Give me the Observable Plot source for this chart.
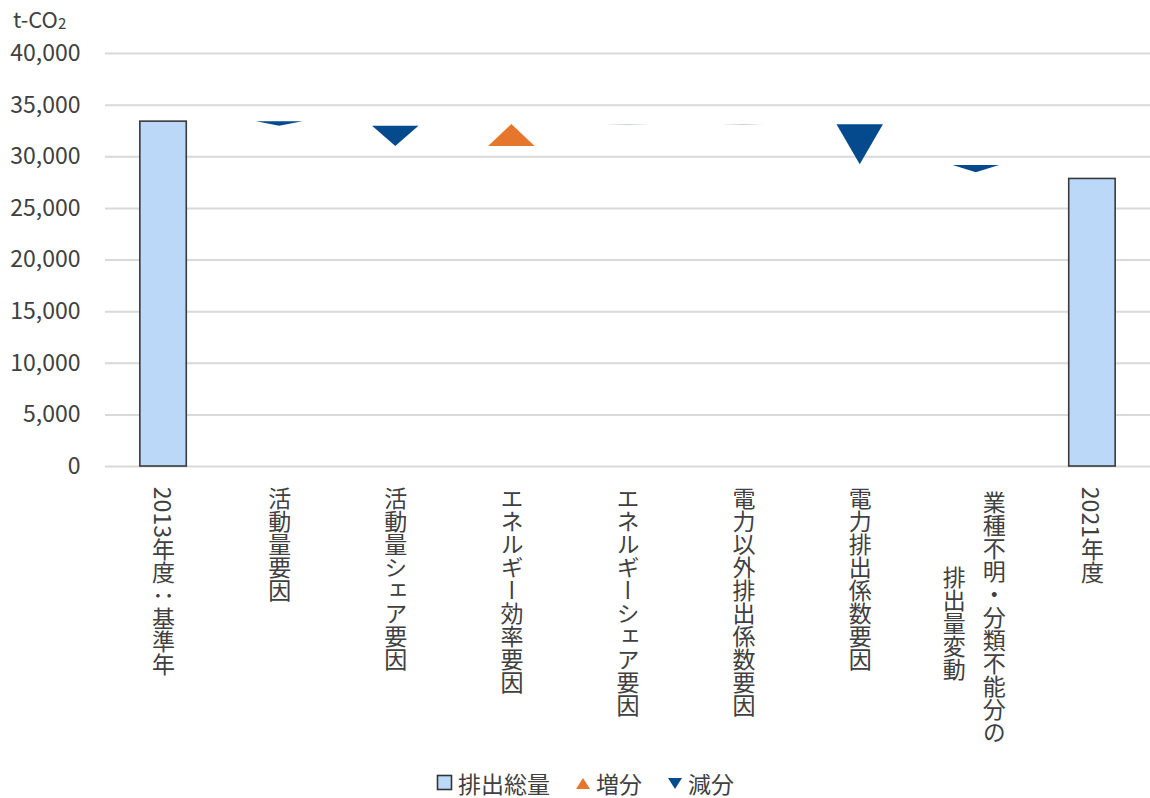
<!DOCTYPE html>
<html><head><meta charset="utf-8">
<script src="https://cdn.jsdelivr.net/npm/d3@7"></script>
<script src="https://cdn.jsdelivr.net/npm/@observablehq/plot@0.6"></script>
<style>
body{margin:0;background:#fff;font-family:"Noto Sans CJK JP","Noto Sans",sans-serif;color:#404040;}
#wrap{position:relative;width:1150px;height:798px;}
#unit{position:absolute;left:13px;top:2px;font-size:22px;color:#404040;}
#unit sub{font-size:15px;vertical-align:-1px;}
#legend{position:absolute;left:0;top:766px;width:1170px;display:flex;justify-content:center;align-items:center;gap:24px;font-size:23px;color:#404040;}
#legend span.item{display:flex;align-items:center;gap:4px;}
</style></head>
<body><div id="wrap"><div id="unit">t-CO<sub>2</sub></div><div id="chart"></div><div id="legend"></div></div>
<script>
const categories = ["2013年度：基準年","活動量要因","活動量シェア要因","エネルギー効率要因","エネルギーシェア要因","電力以外排出係数要因","電力排出係数要因","業種不明・分類不能分の\n排出量変動","2021年度"];
const totalIndex = [0, 8];
const totalValues = [33400, 27850];
const factorIndex = [1, 2, 3, 4, 5, 6, 7];
const factorStart = [33400, 32950, 30990, 33135, 33125, 33100, 29150];
const factorEnd   = [32950, 30990, 33120, 33100, 33090, 29220, 28450];
const yTicks = [0, 5000, 10000, 15000, 20000, 25000, 30000, 35000, 40000];

const colTotal = "#BBD8F8", colUp = "#E7762D", colDown = "#054A8D";
const half = 0.2;

const totals = totalIndex.map((i, k) => ({i, value: totalValues[k]}));
const tri = [];
factorIndex.forEach((i, k) => {
  const s = factorStart[k], e = factorEnd[k];
  const dir = e >= s ? "up" : "down";
  tri.push({id: i, dir, x: i - half, y1: s, y2: s});
  tri.push({id: i, dir, x: i, y1: s, y2: e});
  tri.push({id: i, dir, x: i + half, y1: s, y2: s});
});
const labelLines = [];
categories.forEach((c, i) => {
  const lines = c.split("\n");
  const maxLen = d3.max(lines, l => l.length);
  lines.forEach((t, j) => labelLines.push({i, j, n: lines.length, maxLen, t}));
});

const fs = 23;
const marks = [
  Plot.ruleY(yTicks, {stroke: "#d9d9d9", strokeWidth: 2}),
  Plot.rectY(totals, {x1: d => d.i - half, x2: d => d.i + half, y1: 0, y2: "value", fill: colTotal, stroke: "#3a3a3a", strokeWidth: 1.6}),
  Plot.areaY(tri, {x: "x", y1: "y1", y2: "y2", z: "id", fill: d => d.dir === "up" ? colUp : colDown, curve: "linear"}),
  Plot.axisY({ticks: yTicks, tickSize: 0, tickPadding: 25, tickFormat: d3.format(","), fontSize: 23, label: null, color: "#404040"}),
  Plot.text(labelLines.filter(d => d.n === 1), {x: "i", y: 0, text: "t", dy: 13, textAnchor: "start", fontSize: fs, fill: "#404040"})
];
const multi = labelLines.filter(d => d.n > 1);
d3.groups(multi, d => d.j).forEach(([j, rows]) => {
  const n = rows[0].n, maxLen = rows[0].maxLen;
  marks.push(Plot.text(rows, {x: "i", y: 0, text: "t", dx: ((n - 1) / 2 - j) * 40 - 2, dy: 17 + maxLen * fs / 2 + j * 6, textAnchor: "middle", fontSize: fs, fill: "#404040"}));
});

const svg = Plot.plot({
  width: 1150, height: 766,
  marginLeft: 105, marginRight: 0, marginTop: 53, marginBottom: 300,
  style: {fontFamily: '"Noto Sans CJK JP","Noto Sans",sans-serif', background: "#fff", overflow: "visible"},
  x: {type: "linear", domain: [-0.5, 8.5], axis: null},
  y: {domain: [0, 40000], axis: null},
  marks
});
d3.select(svg).selectAll("g[aria-label='text'] text").each(function(){
  this.removeAttribute("dy");
  this.style.writingMode = "vertical-rl";
});
document.getElementById("chart").appendChild(svg);

const legendItems = [
  {label: "排出総量", kind: "box", color: colTotal},
  {label: "増分", kind: "up", color: colUp},
  {label: "減分", kind: "down", color: colDown}
];
const lg = d3.select("#legend");
legendItems.forEach(it => {
  const s = lg.append("span").attr("class", "item");
  const ic = s.append("svg").attr("width", 18).attr("height", 18);
  if (it.kind === "box") ic.append("rect").attr("x", 1.5).attr("y", 1.5).attr("width", 14).attr("height", 14).attr("fill", it.color).attr("stroke", "#333").attr("stroke-width", 1.6);
  else if (it.kind === "up") ic.append("path").attr("d", "M2,15 L9,4 L16,15 Z").attr("fill", it.color);
  else ic.append("path").attr("d", "M2,4 L16,4 L9,15 Z").attr("fill", it.color);
  s.append("span").text(it.label);
});
</script></body></html>
